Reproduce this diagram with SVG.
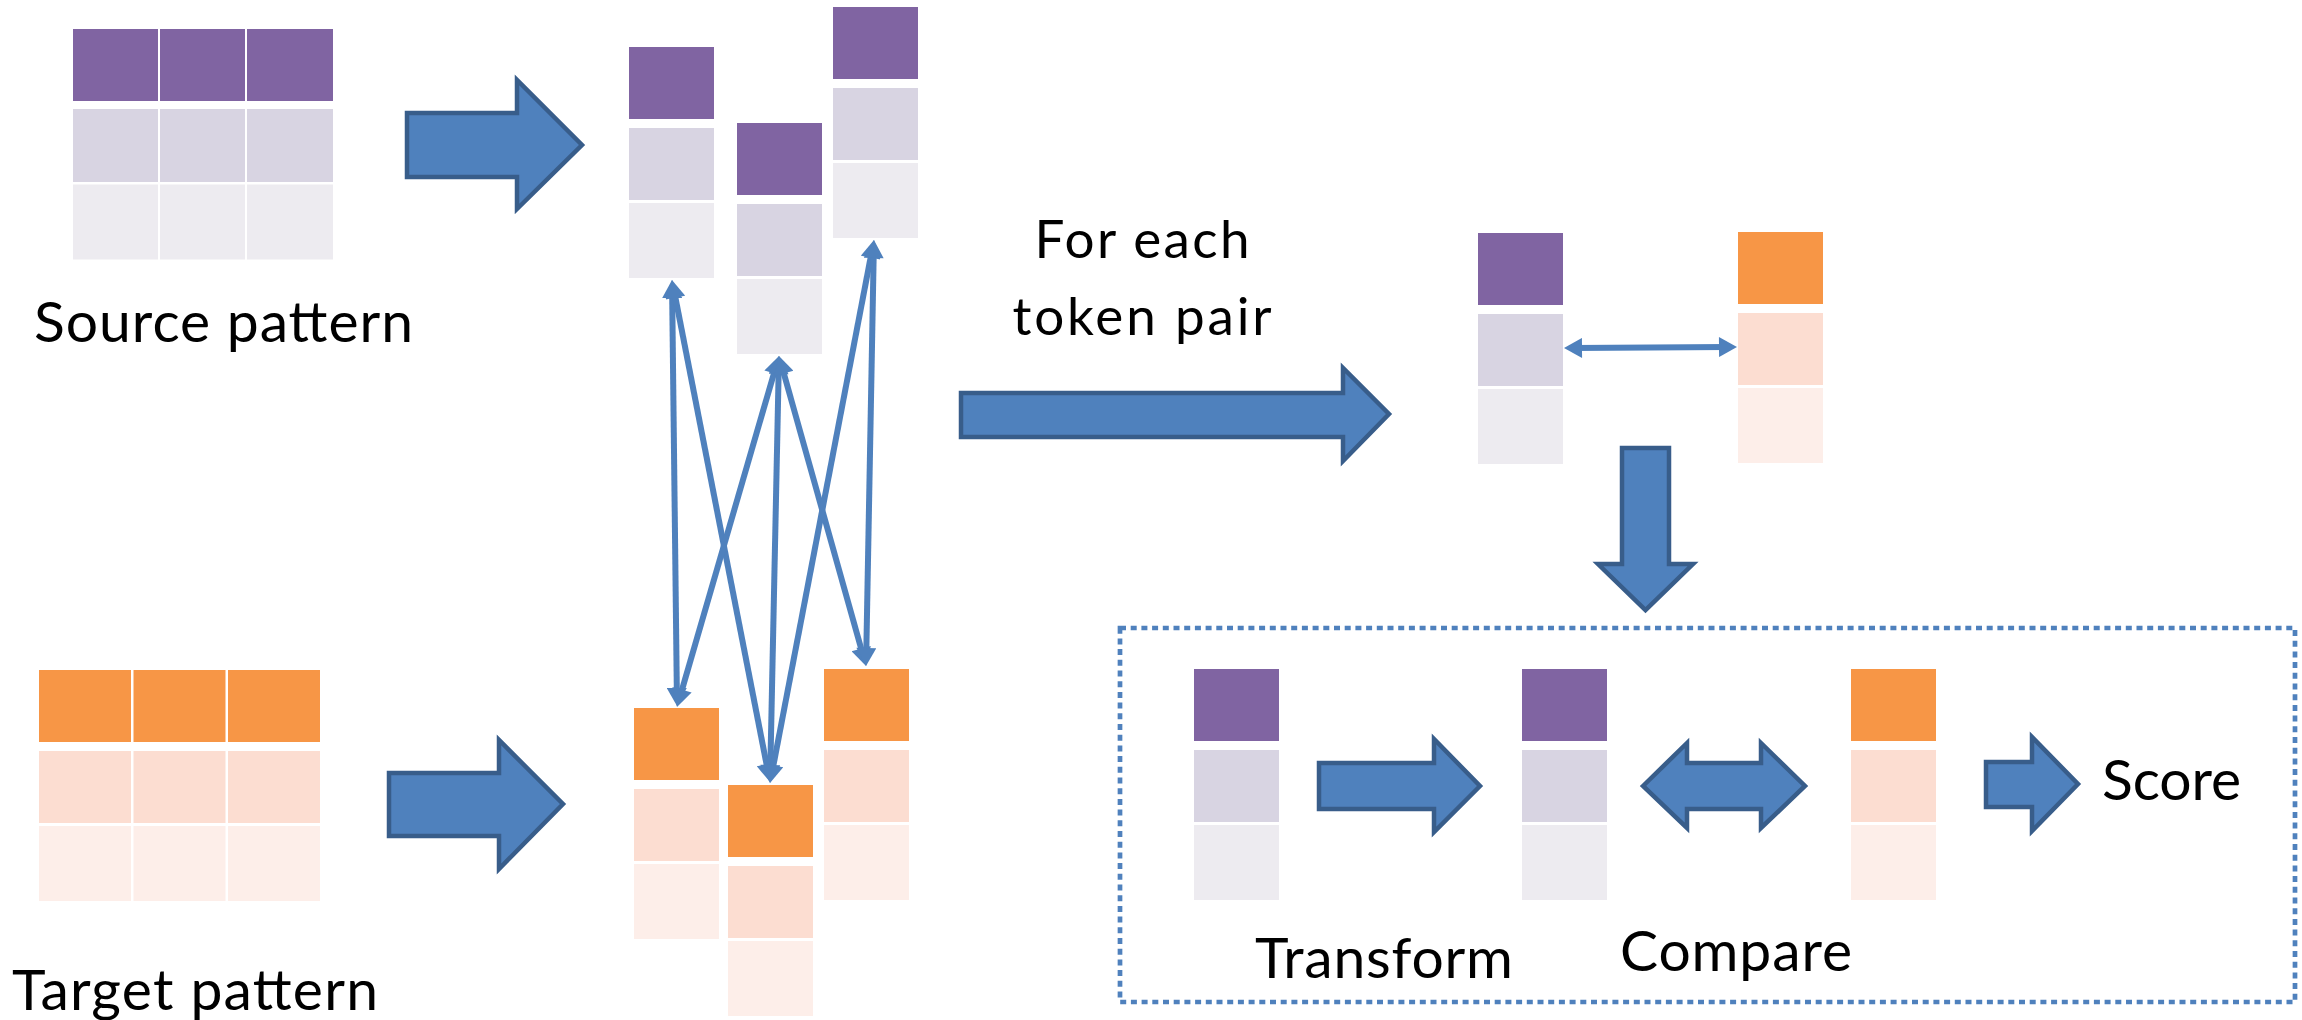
<svg xmlns="http://www.w3.org/2000/svg" xmlns:xlink="http://www.w3.org/1999/xlink" width="2302" height="1020" viewBox="0 0 2302 1020">
  <style>
    .p1 { fill: #8064A2; }
    .p2 { fill: #D8D4E2; }
    .p3 { fill: #EDEBF0; }
    .o1 { fill: #F79646; }
    .o2 { fill: #FCDDD1; }
    .o3 { fill: #FDEEE9; }
    .block { fill: #4F81BD; stroke: #385D8A; stroke-width: 4.5; stroke-linejoin: miter; }
    .link { fill: none; stroke: #4F81BD; stroke-width: 6; marker-start: url(#head); marker-end: url(#head); }
    .label { font-family: Lato, "Liberation Sans", sans-serif; fill: #000; font-size: 57px; }
    .small { font-size: 53px; }
    .frame { fill: none; stroke: #4F81BD; stroke-width: 4.7; stroke-dasharray: 6 4.7; }
  </style>
  <defs>
    <marker id="head" markerUnits="userSpaceOnUse" markerWidth="20" markerHeight="20" viewBox="0 0 18 20" refX="9" refY="10" orient="auto-start-reverse">
      <path d="M0,0 L18,10 L0,20 Z" fill="#4F81BD"/>
    </marker>
    <!-- one token: three stacked cells -->
    <g id="stackP">
      <rect class="p1" x="0" y="0" width="85" height="72"/>
      <rect class="p2" x="0" y="81" width="85" height="72"/>
      <rect class="p3" x="0" y="156" width="85" height="75"/>
    </g>
    <g id="stackO">
      <rect class="o1" x="0" y="0" width="85" height="72"/>
      <rect class="o2" x="0" y="81" width="85" height="72"/>
      <rect class="o3" x="0" y="156" width="85" height="75"/>
    </g>
  </defs>

  <rect width="2302" height="1020" fill="#fff"/>

  <!-- source pattern grid -->
  <g id="source-pattern">
    <rect class="p1" x="73" y="29" width="85" height="72"/>
    <rect class="p1" x="160" y="29" width="85" height="72"/>
    <rect class="p1" x="247" y="29" width="86" height="72"/>
    <rect class="p2" x="73" y="109" width="85" height="73"/>
    <rect class="p2" x="160" y="109" width="85" height="73"/>
    <rect class="p2" x="247" y="109" width="86" height="73"/>
    <rect class="p3" x="73" y="184.5" width="85" height="75"/>
    <rect class="p3" x="160" y="184.5" width="85" height="75"/>
    <rect class="p3" x="247" y="184.5" width="86" height="75"/>
    <text class="label" x="34" y="342" textLength="379">Source pattern</text>
  </g>

  <!-- target pattern grid -->
  <g id="target-pattern">
    <rect class="o1" x="39" y="670" width="92" height="72"/>
    <rect class="o1" x="133.5" y="670" width="92" height="72"/>
    <rect class="o1" x="228" y="670" width="92" height="72"/>
    <rect class="o2" x="39" y="751" width="92" height="72"/>
    <rect class="o2" x="133.5" y="751" width="92" height="72"/>
    <rect class="o2" x="228" y="751" width="92" height="72"/>
    <rect class="o3" x="39" y="826" width="92" height="75"/>
    <rect class="o3" x="133.5" y="826" width="92" height="75"/>
    <rect class="o3" x="228" y="826" width="92" height="75"/>
    <text class="label" x="12" y="1010" textLength="366">Target pattern</text>
  </g>

  <!-- source tokens -->
  <g id="src-token-1"><use xlink:href="#stackP" x="629" y="47"/></g>
  <g id="src-token-2"><use xlink:href="#stackP" x="737" y="123"/></g>
  <g id="src-token-3"><use xlink:href="#stackP" x="833" y="7"/></g>

  <!-- target tokens -->
  <g id="tgt-token-1"><use xlink:href="#stackO" x="634" y="708"/></g>
  <g id="tgt-token-2"><use xlink:href="#stackO" x="728" y="785"/></g>
  <g id="tgt-token-3"><use xlink:href="#stackO" x="824" y="669"/></g>

  <!-- loop label -->
  <g id="loop-label">
    <text class="label small" x="1142" y="258" text-anchor="middle" textLength="215">For each</text>
    <text class="label small" x="1142" y="335" text-anchor="middle" textLength="259">token pair</text>
  </g>

  <!-- selected pair -->
  <g id="pair-source"><use xlink:href="#stackP" x="1478" y="233"/></g>
  <g id="pair-target"><use xlink:href="#stackO" x="1738" y="232"/></g>

  <!-- scoring step -->
  <g id="scoring-frame">
    <rect class="frame" x="1120" y="628" width="1175" height="374"/>
  </g>
  <g id="score-source"><use xlink:href="#stackP" x="1194" y="669"/></g>
  <g id="score-transformed"><use xlink:href="#stackP" x="1522" y="669"/></g>
  <g id="score-target"><use xlink:href="#stackO" x="1851" y="669"/></g>
  <g id="transform-label"><text class="label" x="1255" y="978" textLength="258">Transform</text></g>
  <g id="compare-label"><text class="label" x="1620" y="971" textLength="232">Compare</text></g>
  <g id="score-label"><text class="label" x="2102" y="800" textLength="139">Score</text></g>

  <!-- connectors -->
  <g id="connectors">
    <path class="block" d="M407,113 H517 V80 L582,145 L517,209 V177 H407 Z"/>
    <path class="block" d="M389,773 H499 V740 L563,804 L499,869 V836 H389 Z"/>
    <path class="block" d="M961,393 H1343 V368 L1389,414 L1343,461 V437 H961 Z"/>
    <path class="block" d="M1622,448 H1669 V564 H1693 L1645.5,610 L1598,564 H1622 Z"/>
    <path class="block" d="M1319,763 H1434 V739 L1480,786 L1434,832 V809 H1319 Z"/>
    <path class="block" d="M1643,786 L1687,743 V763 H1761 V743 L1805,786 L1761,828 V809 H1687 V828 Z"/>
    <path class="block" d="M1986,762 H2032 V737 L2078,784 L2032,831 V807 H1986 Z"/>

    <line class="link" x1="672.1" y1="289" x2="676.9" y2="697"/>
    <line class="link" x1="673.7" y1="288.8" x2="768.3" y2="773.2"/>
    <line class="link" x1="776.5" y1="364.6" x2="679.5" y2="698.4"/>
    <line class="link" x1="778.8" y1="365" x2="770.2" y2="774"/>
    <line class="link" x1="781.4" y1="364.7" x2="863.6" y2="657.3"/>
    <line class="link" x1="872.3" y1="248.8" x2="771.7" y2="774.2"/>
    <line class="link" x1="873.8" y1="249" x2="866.2" y2="657"/>
    <line class="link" x1="1573" y1="348" x2="1728" y2="347"/>
  </g>
</svg>
